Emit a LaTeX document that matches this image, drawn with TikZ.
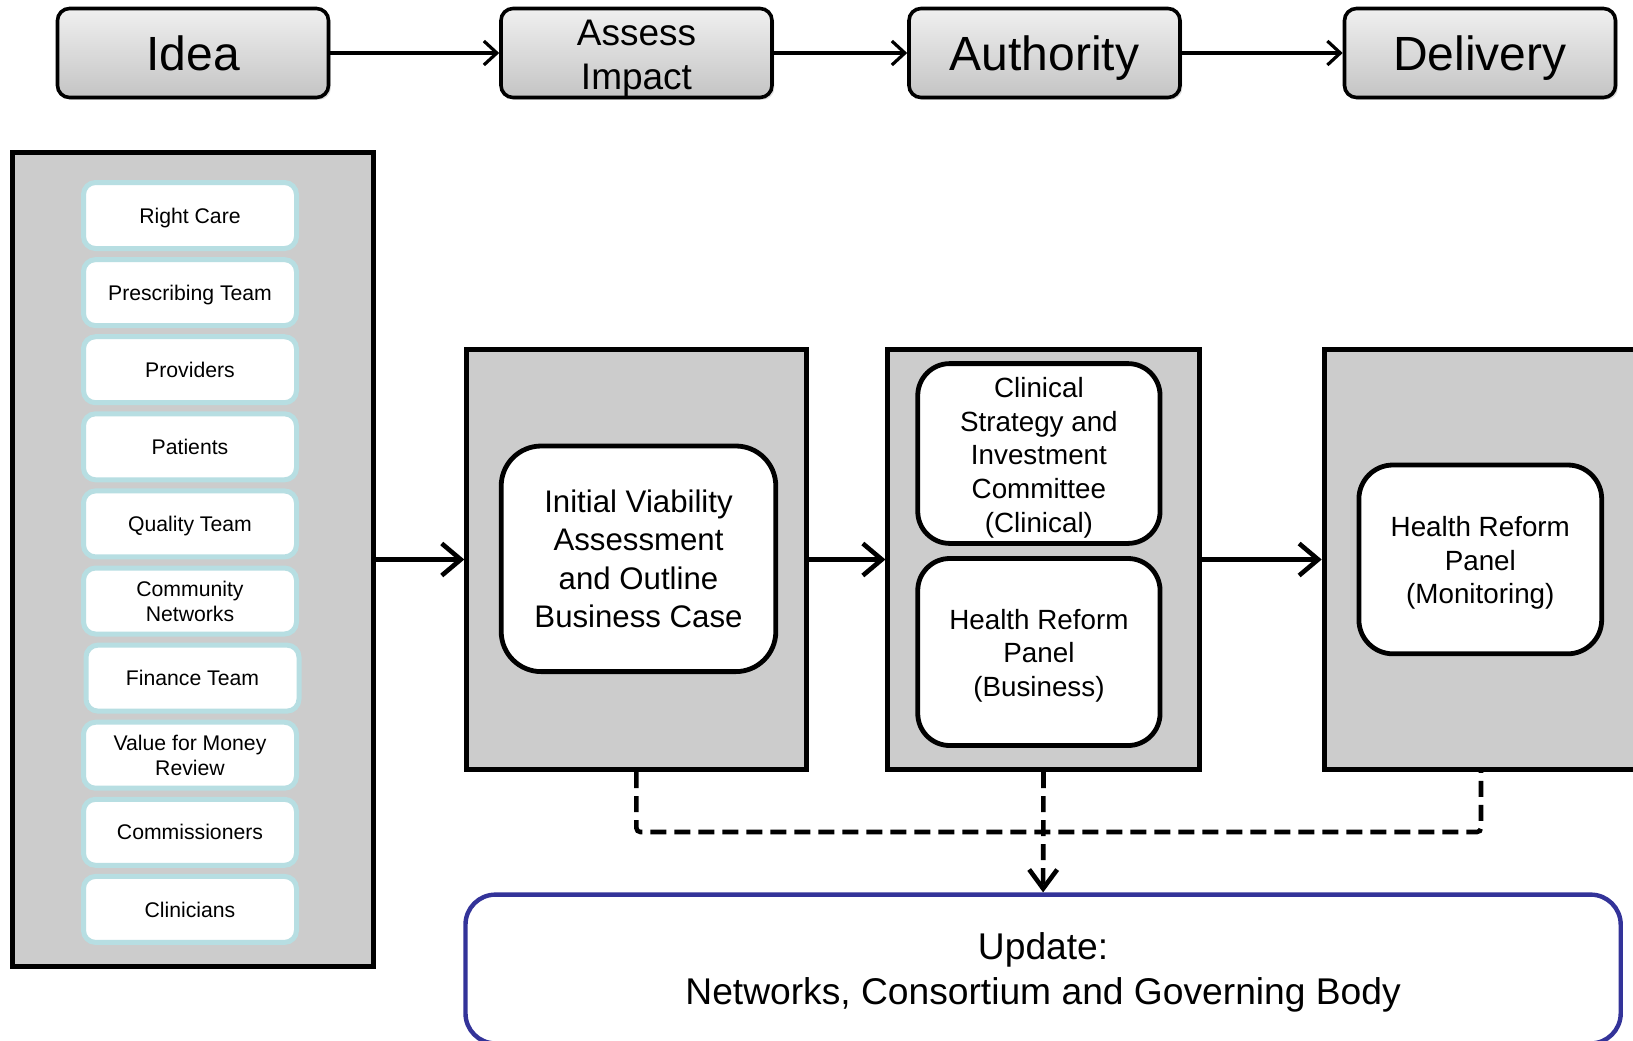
\documentclass[tikz,border=0pt]{standalone}
\usepackage{fontspec}
\setmainfont{Liberation Sans}
\usetikzlibrary{arrows.meta,shadows}
\definecolor{panelgray}{RGB}{204,204,204}
\definecolor{tealedge}{RGB}{183,222,226}
\definecolor{navyedge}{RGB}{51,51,153}
\definecolor{stagetop}{RGB}{240,240,240}
\definecolor{stagebot}{RGB}{196,196,196}
\begin{document}
\begin{tikzpicture}[x=0.5pt,y=-0.5pt,
  stage/.style={draw=black, line width=1.8pt, rounded corners=6pt,
    top color=stagetop, bottom color=stagebot,
    minimum width=135.5pt, minimum height=44.5pt, inner sep=0pt,
    drop shadow={shadow xshift=1.2pt, shadow yshift=-1.2pt, opacity=0.25}},
  stagetext/.style={font=\fontsize{24}{28}\selectfont, text height=17.2pt, text depth=0pt},
  panel/.style={draw=black, line width=2.5pt, fill=panelgray, inner sep=0pt},
  member/.style={draw=tealedge, line width=2.5pt, fill=white, rounded corners=6pt,
    minimum width=106.5pt, minimum height=33pt, align=center, inner sep=0pt,
    font=\fontsize{10.6}{12.5}\selectfont},
  oneline/.style={text height=7.6pt, text depth=0pt},
  body/.style={draw=black, line width=2.4pt, fill=white, inner sep=0pt},
  bodytext/.style={align=center, inner sep=0pt, font=\fontsize{13.9}{16.8}\selectfont},
  topflow/.style={line width=1.6pt, -{Straight Barb[length=6.5pt,width=12pt]}},
  flow/.style={line width=2.3pt, -{Straight Barb[length=9.5pt,width=16pt]}},
  dashline/.style={line width=2.3pt, dash pattern=on 8pt off 4pt}
]
\useasboundingbox (0,0) rectangle (1633,1040);

% stage headers
\node[stage, stagetext] (idea) at (193,53) {Idea};
\node[stage] (assess) at (636.5,53) {};
\node[align=center, inner sep=0pt, font=\fontsize{18.5}{22}\selectfont]
  (assesstext) at ([yshift=-2.6pt]assess.center) {Assess\\Impact};
\node[stage, stagetext] (auth) at (1044.5,53) {Authority};
\node[stage, stagetext] (deliv) at (1480,53) {Delivery};
\draw[topflow] (idea) -- (assess);
\draw[topflow] (assess) -- (auth);
\draw[topflow] (auth) -- (deliv);

% sources of ideas
\node[panel, minimum width=180.5pt, minimum height=407pt] (ideas) at (192.5,559.5) {};
\node[member, oneline] (m1) at (190,215.5) {Right Care};
\node[member, oneline] (m2) at (190,292.6) {Prescribing Team};
\node[member, oneline] (m3) at (190,369.7) {Providers};
\node[member, oneline] (m4) at (190,446.8) {Patients};
\node[member, oneline] (m5) at (190,523.9) {Quality Team};
\node[member] (m6) at (190,601) {Community\\Networks};
\node[member, oneline] (m7) at (192.5,678.1) {Finance Team};
\node[member] (m8) at (190,755.2) {Value for Money\\Review};
\node[member, oneline] (m9) at (190,832.3) {Commissioners};
\node[member, oneline] (m10) at (190,909.4) {Clinicians};

% stage panels
\node[panel, minimum width=169.6pt, minimum height=210pt] (assessp) at (636.4,559.5) {};
\node[panel, minimum width=155.6pt, minimum height=210pt] (authp) at (1043.5,559.5) {};
\node[panel, minimum width=156.8pt, minimum height=210pt] (delivp) at (1481,559.5) {};

\node[body, rounded corners=20pt, minimum width=137.3pt, minimum height=112.8pt] (ivab) at (638.5,558.8) {};
\node[bodytext, font=\fontsize{15.6}{19.25}\selectfont] (ivabtext) at (ivab.center)
  {Initial Viability\\Assessment\\and Outline\\Business Case};
\node[body, rounded corners=16pt, minimum width=121.15pt, minimum height=89.9pt] (csic) at (1038.9,453.5) {};
\node[bodytext] (csictext) at ([yshift=-2.1pt]csic.center)
  {Clinical\\Strategy and\\Investment\\Committee\\(Clinical)};
\node[body, rounded corners=16pt, minimum width=121.15pt, minimum height=93.5pt] (hrpb) at (1038.9,652) {};
\node[bodytext] (hrpbtext) at ([yshift=-1.8pt]hrpb.center) {Health Reform\\Panel\\(Business)};
\node[body, rounded corners=17pt, minimum width=121.4pt, minimum height=94.4pt] (hrpm) at (1480.3,559.4) {};
\node[bodytext] (hrpmtext) at ([yshift=-1.8pt]hrpm.center) {Health Reform\\Panel\\(Monitoring)};

\draw[flow] (ideas.east) -- (assessp.west);
\draw[flow] (assessp.east) -- (authp.west);
\draw[flow] (authp.east) -- (delivp.west);

% update box and reporting lines
\node[draw=navyedge, line width=2.2pt, fill=white, rounded corners=15pt,
  minimum width=577.6pt, minimum height=74.4pt, inner sep=0pt] (upd) at (1043.1,969) {};
\node[align=center, inner sep=0pt, font=\fontsize{18.6}{22.4}\selectfont]
  (updtext) at ([yshift=-1.6pt]upd.center) {Update:\\Networks, Consortium and Governing Body};

\coordinate (bus) at (0,832);
\draw[dashline, rounded corners=2pt] (assessp.south) -- (assessp.south |- bus)
  -- (delivp.south |- bus) -- (delivp.south);
\draw[dashline, -{Straight Barb[length=9.5pt,width=14pt]}] (authp.south) -- (upd.north);
\end{tikzpicture}
\end{document}
